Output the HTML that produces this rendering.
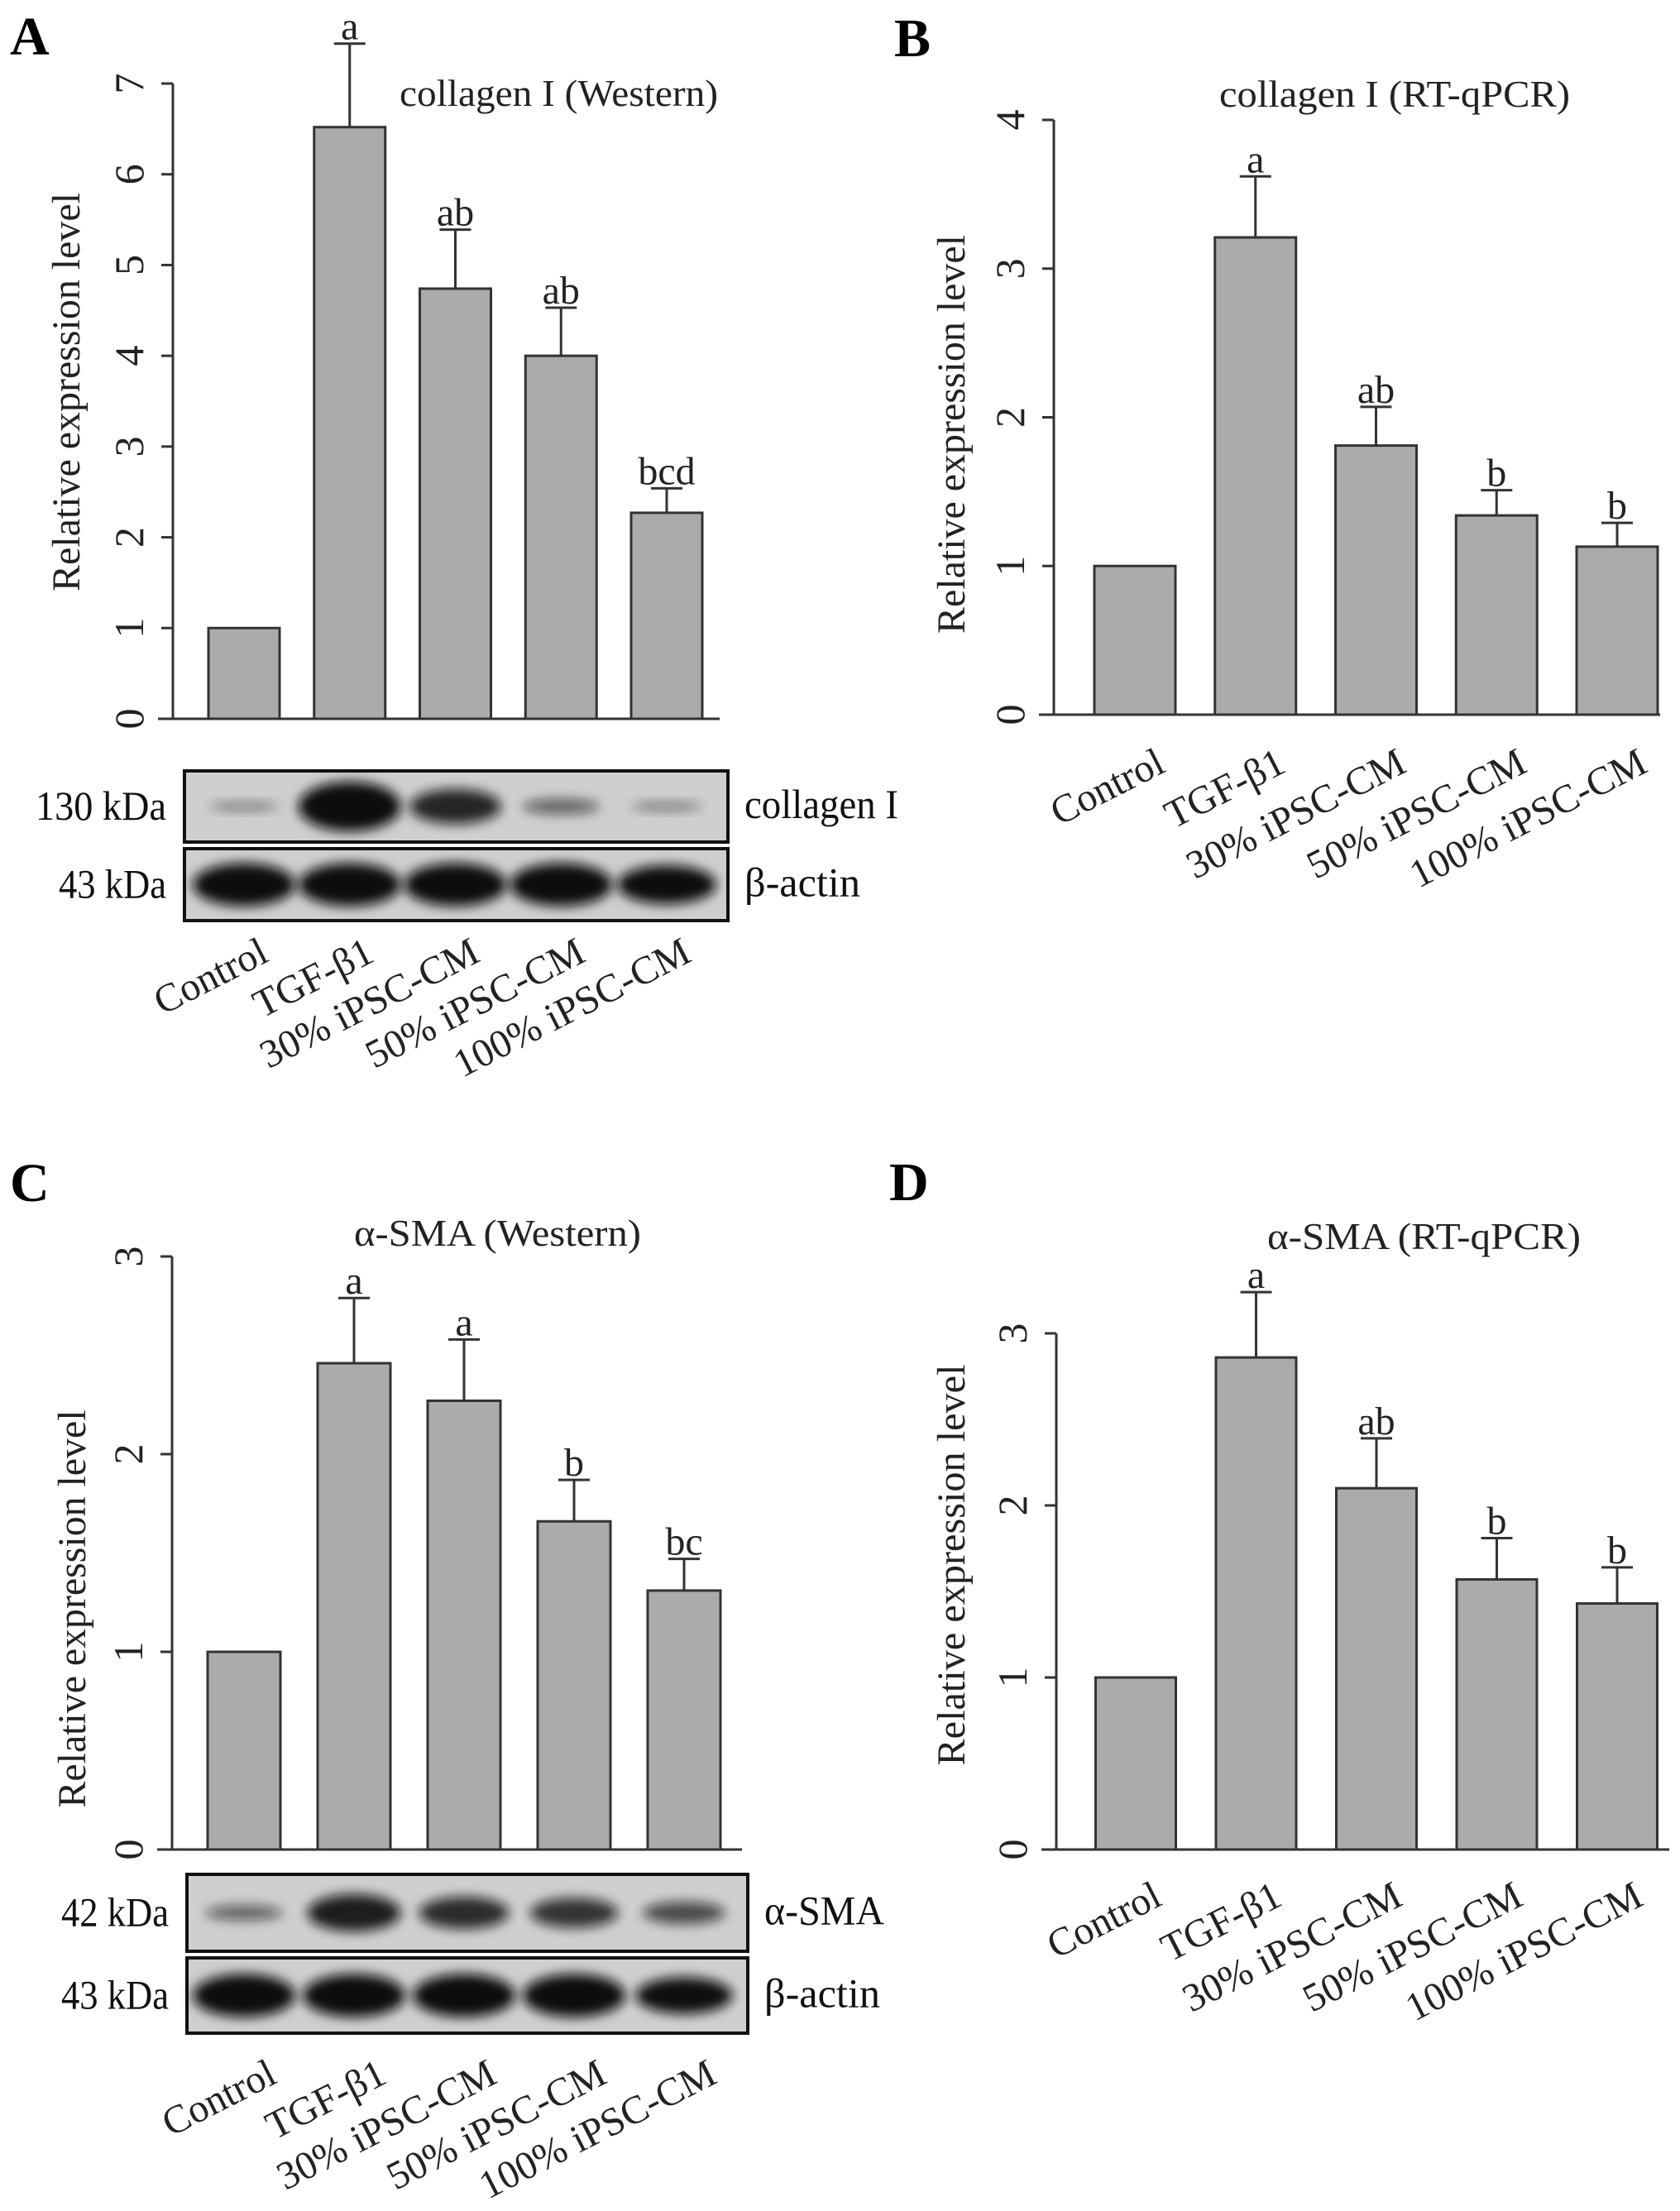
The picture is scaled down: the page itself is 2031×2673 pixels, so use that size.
<!DOCTYPE html>
<html><head><meta charset="utf-8"><style>
html,body{margin:0;padding:0;background:#fff;}
svg{display:block;font-family:"Liberation Serif",serif;}
</style></head><body>
<svg id="fig" width="2031" height="2673" viewBox="0 0 2031 2673" xmlns="http://www.w3.org/2000/svg">
<defs>
<filter id="blur" x="-30%" y="-80%" width="160%" height="260%"><feGaussianBlur stdDeviation="7"/></filter>
</defs>
<text x="12" y="66" font-size="66" font-weight="bold">A</text>
<text x="1081" y="68" font-size="66" font-weight="bold">B</text>
<text x="12" y="1452" font-size="66" font-weight="bold">C</text>
<text x="1075" y="1451" font-size="66" font-weight="bold">D</text>
</svg>
<script>
const categories = ["Control", "TGF-\u03b21", "30% iPSC-CM", "50% iPSC-CM", "100% iPSC-CM"];
const aValues = [1, 6.52, 4.74, 4.0, 2.27];
const aErrors = [0, 7.44, 5.39, 4.53, 2.54];
const aLetters = ["", "a", "ab", "ab", "bcd"];
const aTicks = [0, 1, 2, 3, 4, 5, 6, 7];
const bValues = [1, 3.21, 1.81, 1.34, 1.13];
const bErrors = [0, 3.62, 2.07, 1.51, 1.29];
const bLetters = ["", "a", "ab", "b", "b"];
const bTicks = [0, 1, 2, 3, 4];
const cValues = [1, 2.46, 2.27, 1.66, 1.31];
const cErrors = [0, 2.79, 2.58, 1.87, 1.47];
const cLetters = ["", "a", "a", "b", "bc"];
const cTicks = [0, 1, 2, 3];
const dValues = [1, 2.86, 2.10, 1.57, 1.43];
const dErrors = [0, 3.24, 2.39, 1.81, 1.64];
const dLetters = ["", "a", "ab", "b", "b"];
const dTicks = [0, 1, 2, 3];
const aBandTarget = [0.12, 1.0, 0.7, 0.3, 0.15];
const aBandActin = [1, 1, 1, 1, 0.9];
const cBandTarget = [0.3, 0.75, 0.65, 0.6, 0.45];
const cBandActin = [1, 1, 1, 1, 0.85];

const NS = "http://www.w3.org/2000/svg";
const svg = document.getElementById("fig");
function mk(tag, attrs, parent, txt) {
  const e = document.createElementNS(NS, tag);
  for (const k in attrs) e.setAttribute(k, attrs[k]);
  if (txt !== undefined) e.textContent = txt;
  (parent || svg).appendChild(e);
  return e;
}

function panel(p) {
  const g = mk("g", {});
  
  
  const yMax = p.ticks[p.ticks.length - 1];
  const ys = v => p.y0 - (p.y0 - p.yTop) * v / yMax;
  const step = (p.xLast - p.xFirst) / (categories.length - 1);
  const xs = i => p.xFirst + i * step;
  const ya = mk("line", {x1: p.ax, y1: ys(yMax), x2: p.ax, y2: p.y0, stroke: "#333", "stroke-width": 3}, g);
  
  
  const xa = mk("line", {x1: p.ax - 18, y1: p.y0, x2: p.axEnd, y2: p.y0, stroke: "#333", "stroke-width": 3}, g);
  
  
  p.ticks.forEach(t => {
    const y = ys(t);
    const tl = mk("line", {x1: p.ax - 14, y1: y, x2: p.ax, y2: y, stroke: "#333", "stroke-width": 3}, g);
    
    
    const tx = mk("text", {x: 0, y: 0, "font-size": 50, "text-anchor": "middle", fill: "#222",
      transform: `translate(${p.ax - 36},${y}) rotate(-90)`}, g, String(t));
    
    
  });
  const yt = mk("text", {x: 0, y: 0, "font-size": 48, "text-anchor": "middle", fill: "#222",
    textLength: p.ylabLen, lengthAdjust: "spacingAndGlyphs",
    transform: `translate(${p.ylabX},${p.ylabY}) rotate(-90)`}, g, "Relative expression level");
  
  
  const tt = mk("text", {x: p.titleX, y: p.titleY, "font-size": 46, fill: "#222",
    textLength: p.titleLen, lengthAdjust: "spacingAndGlyphs"}, g, p.title);
  
  
  const bw = p.barW;
  p.values.forEach((v, i) => {
    const cx = xs(i);
    const r = mk("rect", {x: cx - bw / 2, y: ys(v), width: bw, height: p.y0 - ys(v), fill: "#ababab", stroke: "#333", "stroke-width": 3}, g);
    
    
    if (p.errors[i] > v) {
      const e1 = mk("line", {x1: cx, y1: ys(v), x2: cx, y2: ys(p.errors[i]), stroke: "#333", "stroke-width": 3}, g);
      
      
      const e2 = mk("line", {x1: cx - 19, y1: ys(p.errors[i]), x2: cx + 19, y2: ys(p.errors[i]), stroke: "#333", "stroke-width": 3}, g);
      
      
    }
    if (p.letters[i]) {
      const lt = mk("text", {x: cx, y: ys(p.errors[i]) - 5, "font-size": 48, "text-anchor": "middle", fill: "#222"}, g, p.letters[i]);
      
      
    }
    const cl = mk("text", {x: 0, y: 0, "font-size": 48, "text-anchor": "end", fill: "#222",
      transform: `translate(${cx + p.lx},${p.y0 + p.ly}) rotate(-27)`}, g, categories[i]);
    
    
  });
  if (p.blot) {
    const b = p.blot;
    [[b.y1, b.y2, b.target, b.tName, b.tKda, b.tLen], [b.y3, b.y4, b.actin, "\u03b2-actin", "43 kDa", 140]].forEach((row, ri) => {
      const [t, bt, ints, name, kda, nlen] = row;
      const bx = mk("rect", {x: b.x1, y: t, width: b.x2 - b.x1, height: bt - t, fill: "#cfcfcf", stroke: "#111", "stroke-width": 4}, g);
      
      
      const cy = (t + bt) / 2;
      ints.forEach((k, i) => {
        const cx = xs(i);
        const el = mk("ellipse", {cx: cx, cy: cy, rx: 40 + 22 * k, ry: Math.max(5, (ri ? 26 : 30) * k),
          fill: "#111", opacity: Math.min(1, 0.35 + 0.75 * k), filter: "url(#blur)"}, g);
        
        
      });
      const kt = mk("text", {x: b.x1 - 22, y: cy + 16, "font-size": 50, "text-anchor": "end", fill: "#111",
        textLength: kda.length > 6 ? 158 : 130, lengthAdjust: "spacingAndGlyphs"}, g, kda);
      
      
      const nt = mk("text", {x: b.x2 + 20, y: cy + 14, "font-size": 50, fill: "#111",
        textLength: nlen, lengthAdjust: "spacingAndGlyphs"}, g, name);
      
      
    });
  }
}

panel({id: "collagen-western", values: aValues, errors: aErrors, letters: aLetters, ticks: aTicks,
  ax: 209, axEnd: 870, y0: 869, yTop: 101, xFirst: 295, xLast: 806, barW: 86,
  ylabX: 96, ylabY: 474, ylabLen: 482, title: "collagen I (Western)", titleX: 483, titleY: 128, titleLen: 385,
  lx: 32, ly: 292,
  blot: {x1: 223, x2: 880, y1: 932, y2: 1018, y3: 1026, y4: 1113, target: aBandTarget, actin: aBandActin, tName: "collagen I", tKda: "130 kDa", tLen: 186}});
panel({id: "collagen-rtqpcr", values: bValues, errors: bErrors, letters: bLetters, ticks: bTicks,
  ax: 1274, axEnd: 2007, y0: 864, yTop: 145, xFirst: 1372, xLast: 1955, barW: 98,
  ylabX: 1166, ylabY: 525, ylabLen: 482, title: "collagen I (RT-qPCR)", titleX: 1474, titleY: 129, titleLen: 424,
  lx: 39, ly: 68});
panel({id: "asma-western", values: cValues, errors: cErrors, letters: cLetters, ticks: cTicks,
  ax: 208, axEnd: 897, y0: 2236, yTop: 1519, xFirst: 295, xLast: 827, barW: 88,
  ylabX: 103, ylabY: 1945, ylabLen: 481, title: "\u03b1-SMA (Western)", titleX: 428, titleY: 1506, titleLen: 347,
  lx: 42, ly: 281,
  blot: {x1: 226, x2: 904, y1: 2266, y2: 2359, y3: 2367, y4: 2458, target: cBandTarget, actin: cBandActin, tName: "\u03b1-SMA", tKda: "42 kDa", tLen: 145}});
panel({id: "asma-rtqpcr", values: dValues, errors: dErrors, letters: dLetters, ticks: dTicks,
  ax: 1277, axEnd: 2018, y0: 2236, yTop: 1612, xFirst: 1373, xLast: 1955, barW: 97,
  ylabX: 1166, ylabY: 1892, ylabLen: 485, title: "\u03b1-SMA (RT-qPCR)", titleX: 1532, titleY: 1510, titleLen: 379,
  lx: 34, ly: 66});
</script>
</body></html>
